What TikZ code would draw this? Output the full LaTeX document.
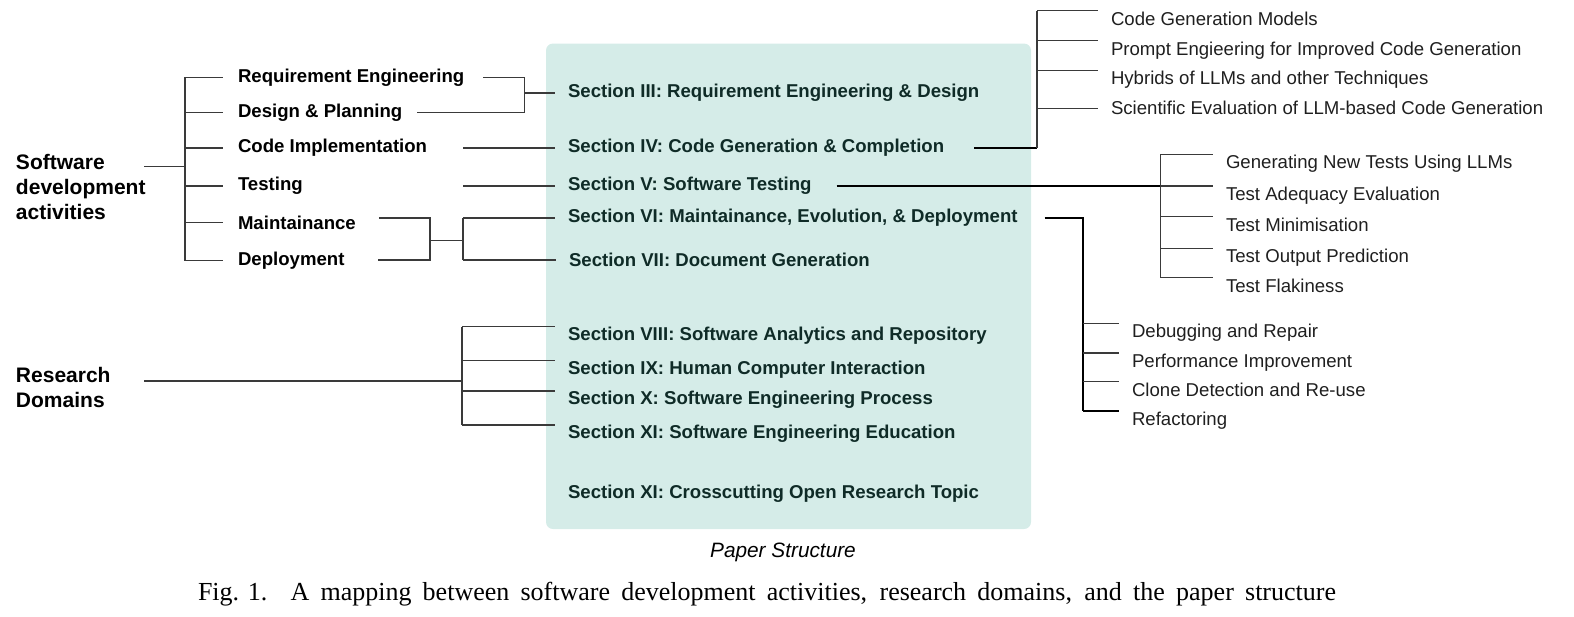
\documentclass[tikz,border=0pt]{standalone}
\usepackage{fontspec}
\setmainfont{Liberation Serif}
\setsansfont{Liberation Sans}
\definecolor{psPanel}{HTML}{D5ECE8}
\definecolor{psInk}{HTML}{0F2B27}
\definecolor{psWire}{HTML}{3A3A3A}

\begin{document}
\begin{tikzpicture}[
  x=1pt,y=-1pt,
  font=\sffamily\fontsize{18.6}{22}\selectfont,
  every node/.style={inner sep=0pt,outer sep=0pt},
  group/.style={anchor=west,text width=128pt,align=left,font=\sffamily\bfseries\fontsize{21}{25}\selectfont},
  activity/.style={anchor=west,inner xsep=15pt,font=\sffamily\bfseries\fontsize{18.6}{22}\selectfont},
  section/.style={anchor=west,inner xsep=13pt,text=psInk,font=\sffamily\bfseries\fontsize{18.6}{22}\selectfont},
  domainsec/.style={section,text height=27.7pt,text depth=0pt},
  topic/.style={anchor=west,inner xsep=13pt,text=black!88},
  subtopic/.style={topic,text height=28.7pt,text depth=0pt},
  link/.style={line width=1.2pt,draw=psWire},
  lead/.style={line width=2pt,draw=black}
]
\path[use as bounding box] (0,0) rectangle (1574,616);
% paper structure panel
\fill[psPanel,rounded corners=7pt] (546,43.5) rectangle (1031,529);
\node (paperCap) at (783,552) {\itshape\fontsize{20.8}{24}\selectfont Paper Structure};
\node[font=\rmfamily\fontsize{26}{30}\selectfont] (figCap) at (767,594)
  {\makebox[1138pt][s]{\mbox{Fig. 1.}\hspace{12pt} A mapping between software development activities, research domains, and the paper structure}};
% left groups
\node[group] (devAct) at (16,186.5) {Software\\development\\activities};
\node[group] (resDom) at (16,387.5) {Research\\Domains};
% activities
\node[activity] (reqEng) at (223,77.3) {Requirement Engineering};
\node[activity] (design) at (223,112.3) {Design \& Planning};
\node[activity] (codeImpl) at (223,148) {Code Implementation};
\node[activity] (testing) at (223,186) {Testing};
\node[activity] (maint) at (223,222.7) {Maintainance};
\node[activity] (deploy) at (223,260.5) {Deployment};
% sections
\node[section] (secReq) at (555,93) {Section III: Requirement Engineering \& Design};
\node[section] (secCode) at (555,148) {Section IV: Code Generation \& Completion};
\node[section] (secTest) at (555,186) {Section V: Software Testing};
\node[section] (secMaint) at (555,218) {Section VI: Maintainance, Evolution, \& Deployment};
\node[section] (secDoc) at (556,260) {Section VII: Document Generation};
\node[domainsec] (secRepo) at (555,326.7) {Section VIII: Software Analytics and Repository};
\node[domainsec] (secHci) at (555,360.3) {Section IX: Human Computer Interaction};
\node[domainsec] (secProc) at (555,391) {Section X: Software Engineering Process};
\node[domainsec] (secEdu) at (555,425) {Section XI: Software Engineering Education};
\node[section] (secCross) at (555,494) {Section XI: Crosscutting Open Research Topic};
% code generation topics
\node[subtopic] (cgModels) at (1098,10.7) {Code Generation Models};
\node[subtopic] (cgPrompt) at (1098,40.7) {Prompt Engieering for Improved Code Generation};
\node[subtopic] (cgHybrid) at (1098,70.3) {Hybrids of LLMs and other Techniques};
\node[topic] (cgEval) at (1098,108.3) {Scientific Evaluation of LLM-based Code Generation};
% testing topics
\node[subtopic] (tGen) at (1213,154.3) {Generating New Tests Using LLMs};
\node[subtopic] (tAdequacy) at (1213,186) {Test Adequacy Evaluation};
\node[subtopic] (tMin) at (1213,216.7) {Test Minimisation};
\node[subtopic] (tOracle) at (1213,248.3) {Test Output Prediction};
\node[subtopic] (tFlaky) at (1213,277.7) {Test Flakiness};
% maintenance topics
\node[subtopic] (mDebug) at (1119,323.3) {Debugging and Repair};
\node[subtopic] (mPerf) at (1119,353) {Performance Improvement};
\node[subtopic] (mClone) at (1119,381.7) {Clone Detection and Re-use};
\node[subtopic] (mRefactor) at (1119,410.7) {Refactoring};

% activities tree
\coordinate (actJ) at (185,166.7);
\draw[link] (devAct.east |- actJ) -- (actJ);
\draw[link] (actJ |- reqEng.west) -- (actJ |- deploy.west);
\draw[link] (actJ |- reqEng.west) -- (reqEng.west);
\draw[link] (actJ |- design.west) -- (design.west);
\draw[link] (actJ |- codeImpl.west) -- (codeImpl.west);
\draw[link] (actJ |- testing.west) -- (testing.west);
\draw[link] (actJ |- maint.west) -- (maint.west);
\draw[link] (actJ |- deploy.west) -- (deploy.west);
% requirement and design into section III
\coordinate (rdJ) at (524.7,93);
\draw[link,shorten <=4pt] (reqEng.east) -| (rdJ);
\draw[link] (design.east) -| (rdJ);
\draw[link] (rdJ) -- (secReq.west);
% implementation, testing, maintainance, deployment
\coordinate (mdJ) at (430,240.3);
\coordinate (secJ) at (463,240.3);
\draw[link] (secJ |- codeImpl.west) -- (secCode.west);
\draw[link] (secJ |- testing.west) -- (secTest.west);
\draw[link,shorten <=8pt] (maint.east |- secMaint.west) -| (mdJ);
\draw[link,shorten <=19pt] (deploy.east |- secDoc.west) -| (mdJ);
\draw[link] (mdJ) -- (secJ);
\draw[link] (secJ |- secMaint.west) -- (secJ |- secDoc.west);
\draw[link] (secJ |- secMaint.west) -- (secMaint.west);
\draw[link] (secJ |- secDoc.west) -- (secDoc.west);
% research domains tree
\coordinate (domJ) at (462,381);
\draw[link] (resDom.east |- domJ) -- (domJ);
\draw[link] (domJ |- secRepo.west) -- (domJ |- secEdu.west);
\draw[link] (domJ |- secRepo.west) -- (secRepo.west);
\draw[link] (domJ |- secHci.west) -- (secHci.west);
\draw[link] (domJ |- secProc.west) -- (secProc.west);
\draw[link] (domJ |- secEdu.west) -- (secEdu.west);
% code generation branch
\coordinate (codeJ) at (1037,148);
\draw[lead,shorten <=17pt] (secCode.east) -- (codeJ);
\draw[link] (codeJ) -- (codeJ |- cgModels.west);
\draw[link] (codeJ |- cgModels.west) -- (cgModels.west);
\draw[link] (codeJ |- cgPrompt.west) -- (cgPrompt.west);
\draw[link] (codeJ |- cgHybrid.west) -- (cgHybrid.west);
\draw[link] (codeJ |- cgEval.west) -- (cgEval.west);
% testing branch
\coordinate (testJ) at (1160.7,186);
\draw[lead,shorten <=12pt] (secTest.east) -- (testJ);
\draw[link] (testJ |- tGen.west) -- (testJ |- tFlaky.west);
\draw[link] (testJ |- tGen.west) -- (tGen.west);
\draw[link] (testJ |- tAdequacy.west) -- (tAdequacy.west);
\draw[link] (testJ |- tMin.west) -- (tMin.west);
\draw[link] (testJ |- tOracle.west) -- (tOracle.west);
\draw[link] (testJ |- tFlaky.west) -- (tFlaky.west);
% maintenance branch
\coordinate (maintJ) at (1082.7,218);
\draw[lead,shorten <=14pt] (secMaint.east) -| (maintJ |- mRefactor.west);
\draw[link] (maintJ |- mDebug.west) -- (mDebug.west);
\draw[link] (maintJ |- mPerf.west) -- (mPerf.west);
\draw[link] (maintJ |- mClone.west) -- (mClone.west);
\draw[lead] (maintJ |- mRefactor.west) -- (mRefactor.west);
\end{tikzpicture}
\end{document}
